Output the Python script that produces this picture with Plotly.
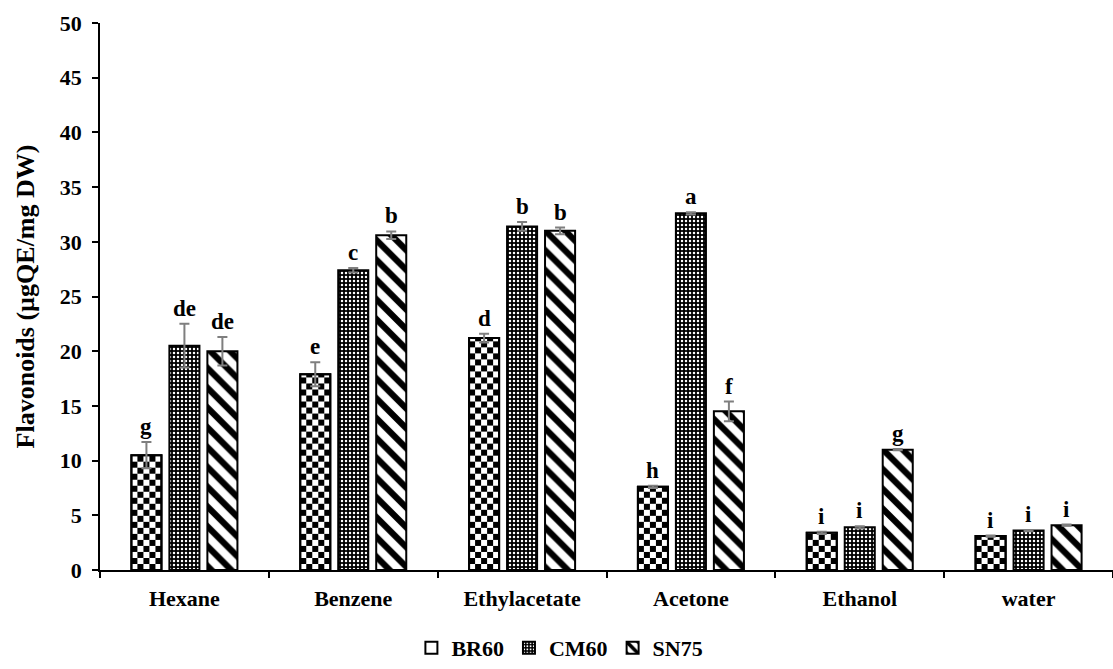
import math
import plotly.graph_objects as go

# Total flavonoid content per solvent extract
solvents = ["Hexane", "Benzene", "Ethylacetate", "Acetone", "Ethanol", "water"]

br60 = [10.5, 17.9, 21.2, 7.6, 3.4, 3.1]
cm60 = [20.5, 27.4, 31.4, 32.6, 3.9, 3.6]
sn75 = [20.0, 30.6, 31.0, 14.5, 11.0, 4.1]

br60_err = [1.2, 1.1, 0.4, 0.1, 0.1, 0.05]
cm60_err = [2.0, 0.2, 0.4, 0.1, 0.1, 0.05]
sn75_err = [1.3, 0.35, 0.3, 0.9, 0.05, 0.05]

br60_sig = ["g", "e", "d", "h", "i", "i"]
cm60_sig = ["de", "c", "b", "a", "i", "i"]
sn75_sig = ["de", "b", "b", "f", "g", "i"]

FONT = "Liberation Serif"
BAR_W = 0.178
STEP = 0.225
OFFS = [-STEP - BAR_W / 2, -BAR_W / 2, STEP - BAR_W / 2]
ERR_COLOR = "#7f7f7f"

fig = go.Figure()

# BR60: white base bar, black checker cells on top, then outline + error bars
fig.add_trace(go.Bar(
    name="BR60", x=solvents, y=br60, offset=OFFS[0], width=BAR_W,
    marker=dict(color="white", line=dict(color="black", width=2)),
    showlegend=True, legendrank=1,
))

cell_cols = 5
cell_w = BAR_W / cell_cols
cell_h = 0.55
cx, coff, cbase, cy = [], [], [], []
for cat, v in zip(solvents, br60):
    nrows = math.ceil(v / cell_h)
    for r in range(nrows):
        b = r * cell_h
        h = min(cell_h, v - b)
        for c in range(cell_cols):
            if (r + c) % 2 == 1:
                cx.append(cat)
                coff.append(OFFS[0] + c * cell_w)
                cbase.append(b)
                cy.append(h)
fig.add_trace(go.Bar(
    x=cx, y=cy, base=cbase, offset=coff, width=cell_w,
    marker=dict(color="black", line=dict(width=0)),
    showlegend=False, hoverinfo="skip",
))
fig.add_trace(go.Bar(
    x=solvents, y=br60, offset=OFFS[0], width=BAR_W,
    marker=dict(color="rgba(0,0,0,0)", line=dict(color="black", width=2)),
    error_y=dict(type="data", array=br60_err, color=ERR_COLOR, thickness=2, width=5),
    showlegend=False,
))

fig.add_trace(go.Bar(
    name="CM60", x=solvents, y=cm60, offset=OFFS[1], width=BAR_W,
    marker=dict(color="black", line=dict(color="black", width=2),
                pattern=dict(shape=".", fgcolor="white", bgcolor="black",
                             size=4, solidity=0.3, fillmode="replace")),
    error_y=dict(type="data", array=cm60_err, color=ERR_COLOR, thickness=2, width=5),
    legendrank=2,
))

fig.add_trace(go.Bar(
    name="SN75", x=solvents, y=sn75, offset=OFFS[2], width=BAR_W,
    marker=dict(color="white", line=dict(color="black", width=2),
                pattern=dict(shape="\\", fgcolor="black", bgcolor="white",
                             size=14, solidity=0.45, fillmode="replace")),
    error_y=dict(type="data", array=sn75_err, color=ERR_COLOR, thickness=2, width=5),
    legendrank=3,
))

# significance letters above each error bar
for k, (vals, errs, sigs) in enumerate([(br60, br60_err, br60_sig),
                                         (cm60, cm60_err, cm60_sig),
                                         (sn75, sn75_err, sn75_sig)]):
    for i, (v, e, s) in enumerate(zip(vals, errs, sigs)):
        fig.add_annotation(
            x=i + OFFS[k] + BAR_W / 2, y=v + e, xref="x", yref="y",
            text=s, showarrow=False, yanchor="bottom", yshift=1,
            font=dict(family=FONT, size=23, color="black", weight="bold"),
        )

fig.update_layout(
    width=1113, height=669,
    margin=dict(l=100, r=0, t=23, b=99, autoexpand=False),
    paper_bgcolor="white", plot_bgcolor="white",
    barmode="overlay",
    font=dict(family=FONT, size=22, color="black"),
    legend=dict(orientation="h", x=0.454, xanchor="center",
                y=0.0, yref="container", yanchor="bottom",
                font=dict(family=FONT, size=22, color="black", weight="bold"),
                itemwidth=30, traceorder="normal"),
    xaxis=dict(
        type="category", tickson="boundaries", ticks="outside", ticklen=6,
        tickwidth=1.5, tickcolor="black",
        showline=True, linecolor="black", linewidth=1.5, showgrid=False,
        tickfont=dict(family=FONT, size=22, color="black", weight="bold"),
        ticklabelstandoff=8,
    ),
    yaxis=dict(
        range=[0, 50], dtick=5, ticks="outside", ticklen=6, tickwidth=1.5,
        tickcolor="black", showline=True, linecolor="black", linewidth=1.5,
        showgrid=False, zeroline=False,
        tickfont=dict(family=FONT, size=22, color="black", weight="bold"),
        ticklabelstandoff=6,
        title=dict(text="Flavonoids (µgQE/mg DW)", standoff=18,
                   font=dict(family=FONT, size=26, color="black", weight="bold")),
    ),
)

fig.write_html("out.html")
